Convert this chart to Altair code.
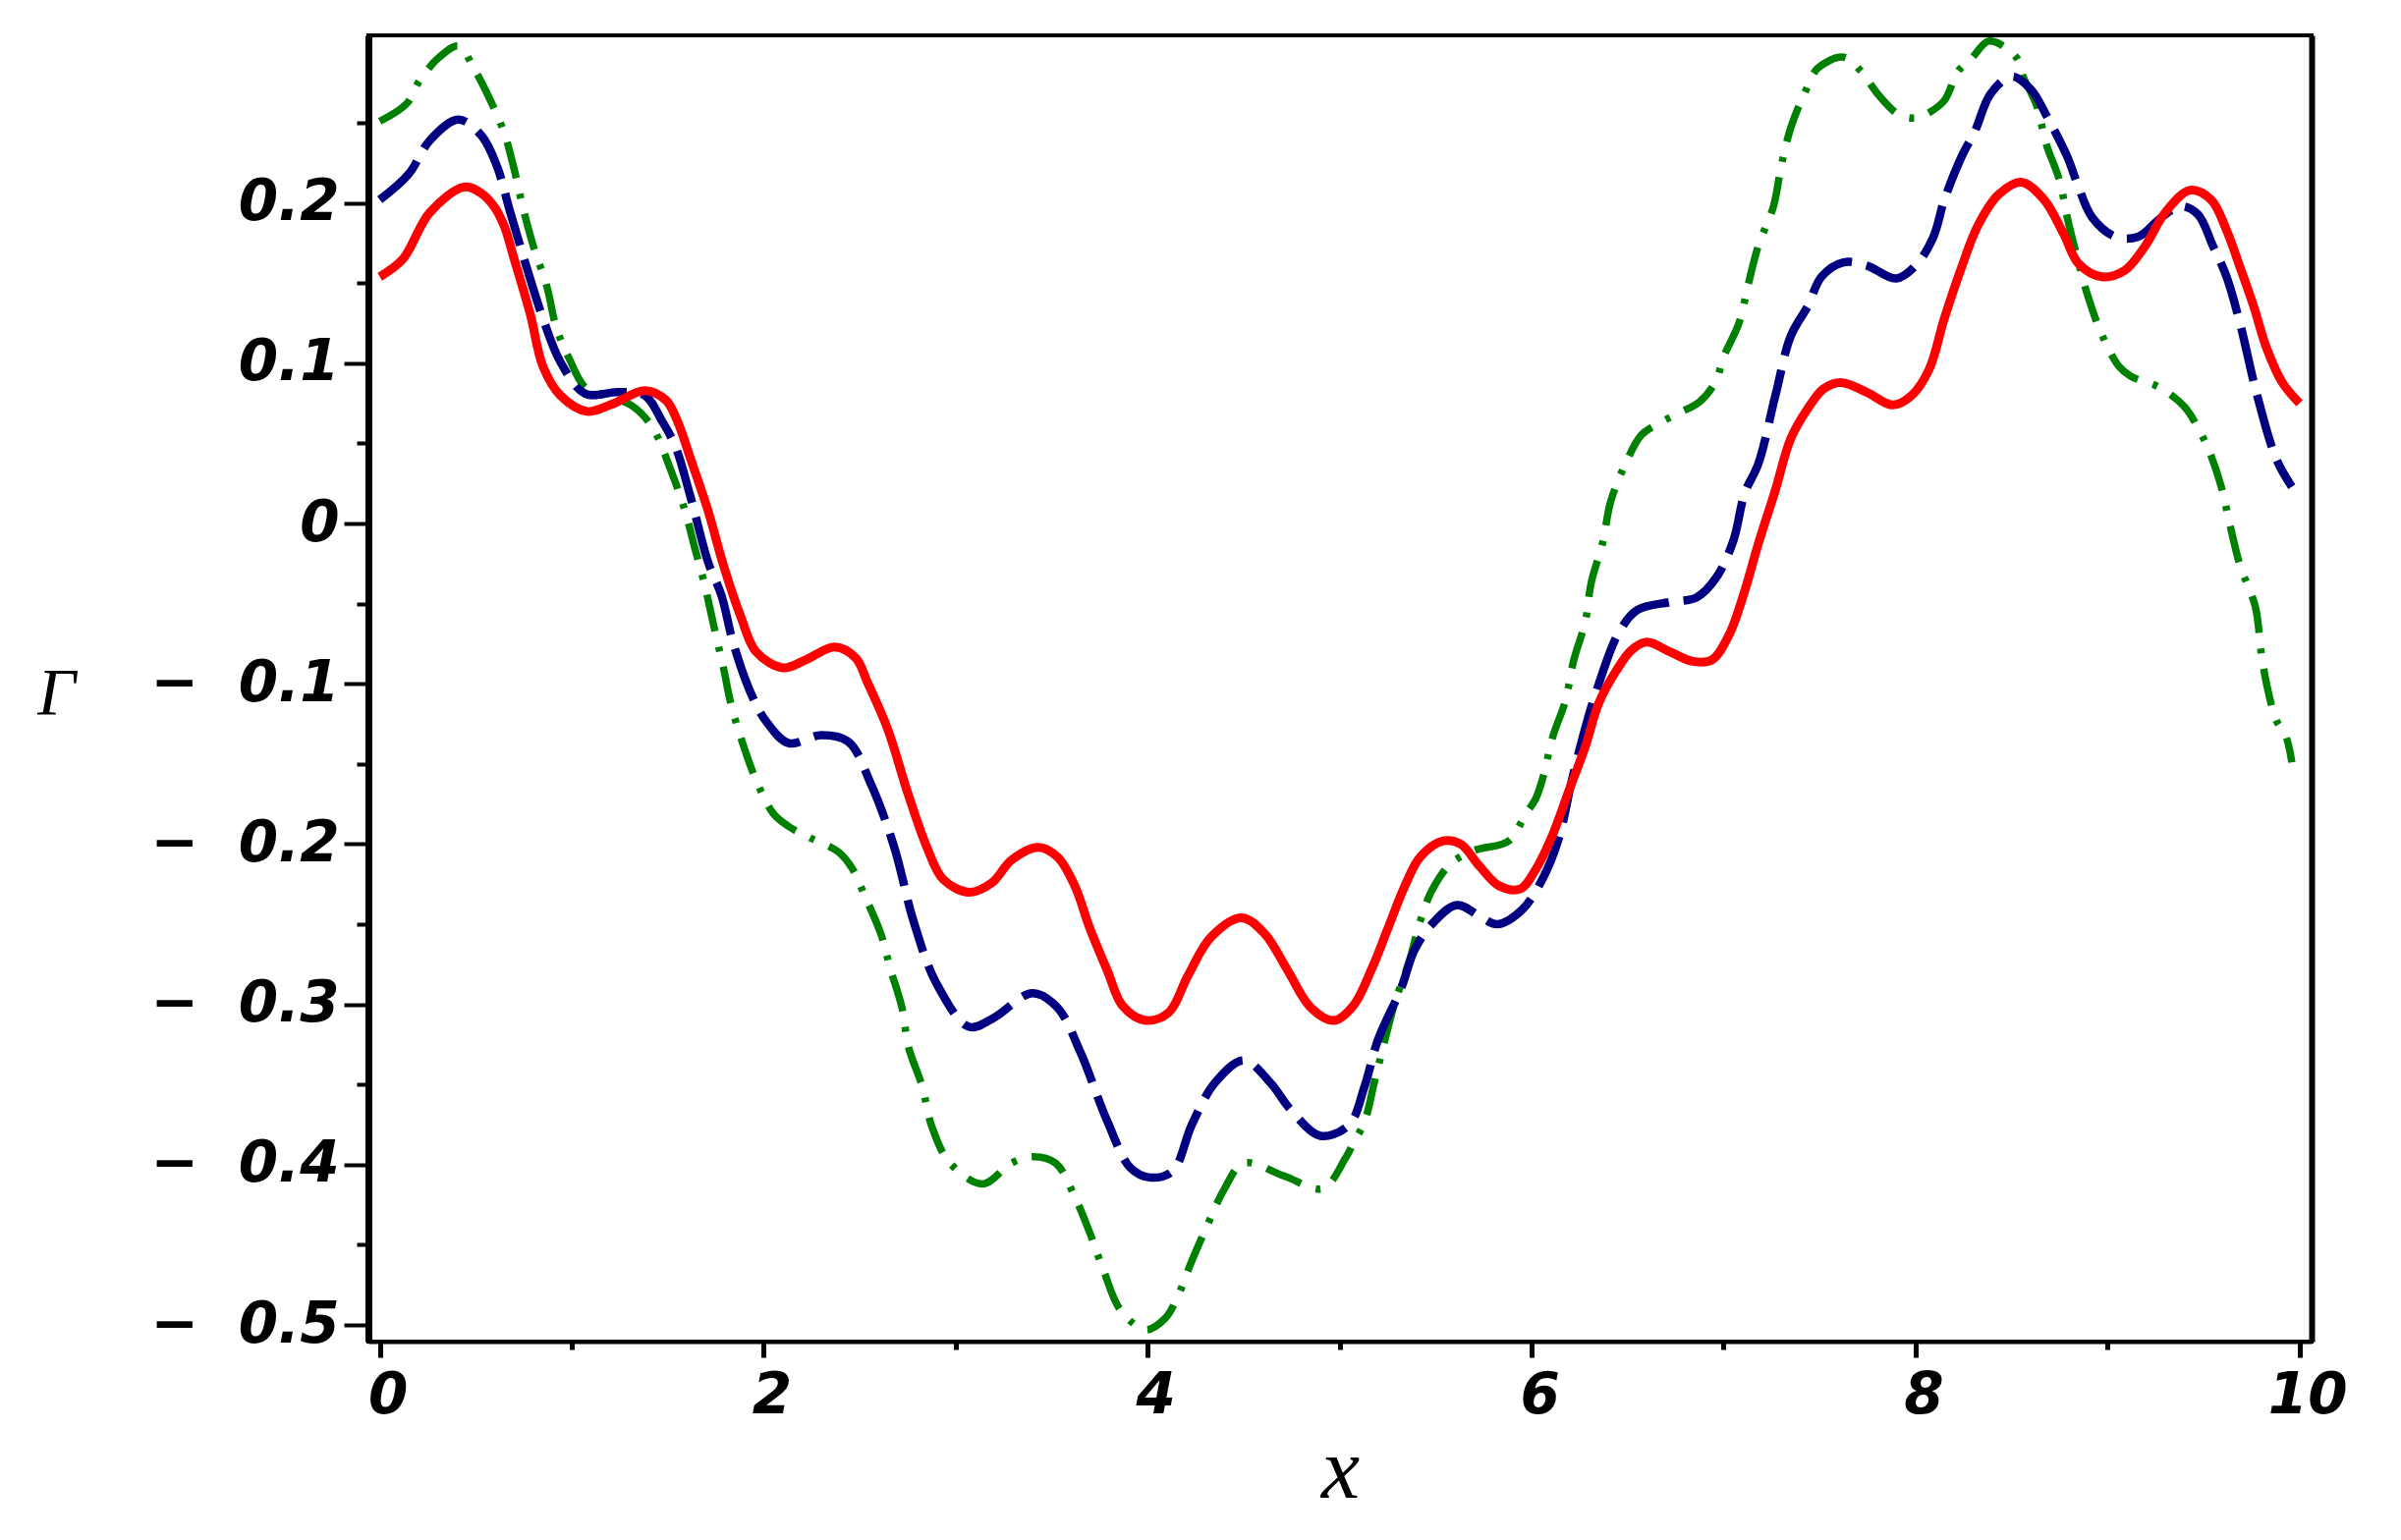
import altair as alt
import pandas as pd

# ---- data ----
red_x = [0.0, 0.12, 0.26, 0.44, 0.53, 0.60, 0.65, 0.70, 0.785, 0.85, 0.94, 1.08, 1.21, 1.38, 1.49, 1.55, 1.62,
         1.71, 1.79, 1.88, 1.96, 2.10, 2.22, 2.37, 2.48, 2.54, 2.645, 2.75, 2.85, 2.935, 3.07, 3.19,
         3.29, 3.43, 3.53, 3.62, 3.70, 3.79, 3.87, 3.99, 4.11, 4.21, 4.33, 4.49, 4.61, 4.73, 4.85,
         4.97, 5.07, 5.17, 5.25, 5.34, 5.42, 5.54, 5.63, 5.73, 5.83, 5.94, 6.02, 6.11, 6.19, 6.28,
         6.35, 6.44, 6.52, 6.60, 6.72, 6.84, 6.94, 7.03, 7.11, 7.18, 7.27, 7.35, 7.44, 7.52, 7.61,
         7.745, 7.88, 7.98, 8.07, 8.15, 8.24, 8.325, 8.43, 8.55, 8.67, 8.77, 8.85, 8.97, 9.09, 9.195,
         9.30, 9.43, 9.54, 9.62, 9.69, 9.76, 9.83, 9.91, 10.0]
red_y = [0.154, 0.165, 0.194, 0.210, 0.206, 0.197, 0.185, 0.165, 0.130, 0.098, 0.080, 0.070, 0.0745, 0.083, 0.077, 0.064, 0.040,
         0.008, -0.026, -0.058, -0.080, -0.090, -0.085, -0.077, -0.084, -0.099, -0.128, -0.168, -0.202, -0.222, -0.230, -0.224,
         -0.210, -0.202, -0.208, -0.226, -0.253, -0.279, -0.301, -0.310, -0.305, -0.282, -0.258, -0.246, -0.256, -0.279, -0.302,
         -0.310, -0.301, -0.277, -0.253, -0.226, -0.208, -0.198, -0.200, -0.214, -0.226, -0.228, -0.216, -0.194, -0.168, -0.139,
         -0.112, -0.092, -0.079, -0.074, -0.080, -0.086, -0.085, -0.069, -0.042, -0.013, 0.021, 0.053, 0.072, 0.084, 0.088,
         0.082, 0.074, 0.080, 0.096, 0.128, 0.160, 0.186, 0.205, 0.213, 0.202, 0.181, 0.162, 0.154, 0.158, 0.173,
         0.194, 0.208, 0.202, 0.183, 0.160, 0.136, 0.109, 0.088, 0.075]

navy_x = [0.0, 0.15, 0.26, 0.41, 0.53, 0.61, 0.68, 0.78, 0.85, 0.94, 1.07, 1.24, 1.38, 1.47, 1.54,
          1.62, 1.71, 1.78, 1.84, 1.93, 2.01, 2.13, 2.30, 2.44, 2.56, 2.68, 2.78, 2.90, 3.07, 3.19,
          3.40, 3.53, 3.65, 3.79, 3.91, 4.01, 4.13, 4.23, 4.35, 4.50, 4.64, 4.74, 4.90, 5.05, 5.13,
          5.20, 5.32, 5.39, 5.48, 5.61, 5.73, 5.82, 5.95, 6.06, 6.14, 6.21, 6.29, 6.35, 6.45, 6.55,
          6.72, 6.86, 6.96, 7.05, 7.11, 7.18, 7.27, 7.35, 7.44, 7.51, 7.625, 7.745, 7.90, 8.00, 8.09,
          8.15, 8.24, 8.31, 8.39, 8.50, 8.60, 8.68, 8.79, 8.84, 8.92, 9.04, 9.16, 9.28, 9.38, 9.47,
          9.55, 9.62, 9.69, 9.775, 9.88, 9.96]
navy_y = [0.202, 0.218, 0.239, 0.252, 0.242, 0.223, 0.194, 0.154, 0.128, 0.101, 0.081, 0.082, 0.080, 0.064, 0.048,
          0.016, -0.024, -0.045, -0.074, -0.105, -0.123, -0.137, -0.132, -0.136, -0.163, -0.202, -0.248, -0.287, -0.314, -0.309,
          -0.293, -0.302, -0.330, -0.373, -0.402, -0.408, -0.404, -0.375, -0.349, -0.335, -0.349, -0.365, -0.382, -0.375, -0.351,
          -0.322, -0.290, -0.266, -0.250, -0.238, -0.245, -0.250, -0.241, -0.221, -0.197, -0.160, -0.123, -0.100, -0.069, -0.054,
          -0.049, -0.046, -0.034, -0.011, 0.019, 0.037, 0.080, 0.117, 0.136, 0.154, 0.163, 0.161, 0.153, 0.161, 0.178,
          0.202, 0.229, 0.245, 0.268, 0.279, 0.271, 0.255, 0.229, 0.213, 0.191, 0.179, 0.179, 0.191, 0.198, 0.193,
          0.173, 0.154, 0.125, 0.082, 0.040, 0.023]

green_x = [0.0, 0.14, 0.21, 0.31, 0.41, 0.49, 0.58, 0.65, 0.70, 0.75, 0.80, 0.87, 0.92, 0.99, 1.07,
           1.18, 1.32, 1.42, 1.52, 1.59, 1.64, 1.69, 1.74, 1.79, 1.83, 1.89, 1.96, 2.05, 2.13, 2.24,
           2.39, 2.46, 2.525, 2.61, 2.66, 2.72, 2.755, 2.825, 2.875, 2.97, 3.14, 3.29, 3.40, 3.52, 3.62,
           3.70, 3.77, 3.86, 3.99, 4.09, 4.15, 4.23, 4.31, 4.40, 4.50, 4.71, 4.91, 5.03, 5.07, 5.13,
           5.18, 5.23, 5.29, 5.36, 5.42, 5.48, 5.58, 5.70, 5.88, 5.97, 6.02, 6.06, 6.11, 6.175, 6.22,
           6.28, 6.31, 6.37, 6.41, 6.48, 6.57, 6.64, 6.75, 6.875, 6.96, 7.00, 7.08, 7.13, 7.18, 7.26,
           7.30, 7.35, 7.42, 7.49, 7.625, 7.71, 7.81, 7.915, 8.00, 8.05, 8.15, 8.22, 8.29, 8.38, 8.47,
           8.53, 8.56, 8.63, 8.68, 8.75, 8.79, 8.84, 8.90, 8.97, 9.06, 9.12, 9.27, 9.40, 9.47, 9.53,
           9.59, 9.64, 9.69, 9.77, 9.80, 9.83, 9.88, 9.93, 9.96]
green_y = [0.251, 0.262, 0.277, 0.291, 0.298, 0.284, 0.263, 0.243, 0.221, 0.195, 0.173, 0.148, 0.122, 0.102, 0.085,
           0.080, 0.073, 0.060, 0.032, 0.008, -0.015, -0.037, -0.064, -0.090, -0.113, -0.137, -0.160, -0.181, -0.189, -0.196,
           -0.205, -0.215, -0.232, -0.256, -0.278, -0.302, -0.327, -0.351, -0.376, -0.399, -0.412, -0.399, -0.395, -0.399, -0.420,
           -0.443, -0.466, -0.491, -0.503, -0.496, -0.484, -0.460, -0.438, -0.415, -0.399, -0.407, -0.415, -0.396, -0.387, -0.373,
           -0.349, -0.325, -0.298, -0.274, -0.248, -0.229, -0.212, -0.204, -0.198, -0.181, -0.172, -0.158, -0.133, -0.111, -0.085,
           -0.061, -0.037, -0.012, 0.013, 0.035, 0.055, 0.061, 0.068, 0.076, 0.089, 0.104, 0.125, 0.150, 0.173, 0.198,
           0.223, 0.247, 0.268, 0.284, 0.291, 0.283, 0.267, 0.255, 0.253, 0.255, 0.264, 0.282, 0.290, 0.301, 0.297,
           0.290, 0.279, 0.261, 0.237, 0.214, 0.191, 0.167, 0.141, 0.118, 0.098, 0.092, 0.085, 0.073, 0.060, 0.045,
           0.024, -0.002, -0.026, -0.052, -0.080, -0.101, -0.123, -0.133, -0.149]

x_major_ticks = [0, 2, 4, 6, 8, 10]
x_minor_ticks = [1, 3, 5, 7, 9]
y_major_ticks = [-0.5, -0.4, -0.3, -0.2, -0.1, 0, 0.1, 0.2]
y_minor_ticks = [-0.45, -0.35, -0.25, -0.15, -0.05, 0.05, 0.15, 0.25]

red_df = pd.DataFrame({"x": red_x, "y": red_y})
navy_df = pd.DataFrame({"x": navy_x, "y": navy_y})
green_df = pd.DataFrame({"x": green_x, "y": green_y})

xscale = alt.Scale(domain=[-0.0594, 10.063], nice=False, zero=False)
yscale = alt.Scale(domain=[-0.5104, 0.3046], nice=False, zero=False)

LABEL_FONT = "DejaVu Sans"
TITLE_FONT = "Liberation Serif"

x_major_axis = alt.Axis(
    orient="bottom", values=x_major_ticks, grid=False,
    title="x", titleFont=TITLE_FONT, titleFontStyle="italic", titleFontWeight="normal",
    titleFontSize=88, titleColor="black", titleX=989, titleY=132,
    titleBaseline="middle", titleAlign="center",
    labelFont=LABEL_FONT, labelFontSize=58, labelFontStyle="italic", labelFontWeight="bold",
    labelColor="black", labelPadding=10, labelBaseline="top", labelOffset=8,
    labelFlush=False, labelOverlap=False, labelLimit=400, format="d",
    tickSize=16, tickWidth=5, tickColor="black",
    domainWidth=4, domainColor="black",
)
x_minor_axis = alt.Axis(
    orient="bottom", values=x_minor_ticks, grid=False, labels=False, domain=False,
    title=None, tickSize=8, tickWidth=5, tickColor="black",
)
y_major_axis = alt.Axis(
    orient="left", values=y_major_ticks, grid=False,
    title="Γ", titleFont=TITLE_FONT, titleFontStyle="italic", titleFontWeight="normal",
    titleFontSize=68, titleColor="black", titleAngle=0, titleX=-318, titleY=670,
    titleBaseline="middle", titleAlign="center",
    labelFont=LABEL_FONT, labelFontSize=58, labelFontStyle="italic", labelFontWeight="bold",
    labelColor="black", labelPadding=5, labelAlign="right", labelBaseline="middle",
    labelFlush=False, labelOverlap=False, labelLimit=400,
    labelExpr="datum.value < -0.001 ? '\u2212\u2002\u2009' + format(-datum.value, '.1f') : (abs(datum.value) < 0.001 ? '0' : format(datum.value, '.1f'))",
    tickSize=25, tickWidth=4, tickColor="black",
    domainWidth=7, domainColor="black",
)
y_minor_axis = alt.Axis(
    orient="left", values=y_minor_ticks, grid=False, labels=False, domain=False,
    title=None, tickSize=12, tickWidth=4, tickColor="black",
)
y_right_axis = alt.Axis(
    orient="right", grid=False, labels=False, ticks=False, title=None,
    domainWidth=6, domainColor="black",
)

red = alt.Chart(red_df).mark_line(color="#ff0000", strokeWidth=9, interpolate="catmull-rom").encode(
    x=alt.X("x:Q", scale=xscale, axis=x_major_axis),
    y=alt.Y("y:Q", scale=yscale, axis=y_major_axis),
)
navy = alt.Chart(navy_df).mark_line(color="#000080", strokeWidth=8.5, strokeDash=[55, 15],
                                    interpolate="catmull-rom").encode(
    x=alt.X("x:Q", scale=xscale, axis=x_minor_axis),
    y=alt.Y("y:Q", scale=yscale, axis=y_minor_axis),
)
green = alt.Chart(green_df).mark_line(color="#008000", strokeWidth=7.5, strokeDash=[38, 16, 5, 16],
                                      interpolate="catmull-rom").encode(
    x=alt.X("x:Q", scale=xscale, axis=None),
    y=alt.Y("y:Q", scale=yscale, axis=y_right_axis),
)

chart = alt.layer(green, navy, red).resolve_axis(
    x="independent", y="independent"
).properties(
    width=1978, height=1330,
    padding={"left": 367, "top": 28, "right": 70, "bottom": 180},
    autosize=alt.AutoSizeParams(type="none"),
    background="white",
).configure_view(
    stroke="black", strokeWidth=4,
)

chart.save("out.html", embed_options={"renderer": "svg", "actions": False})
